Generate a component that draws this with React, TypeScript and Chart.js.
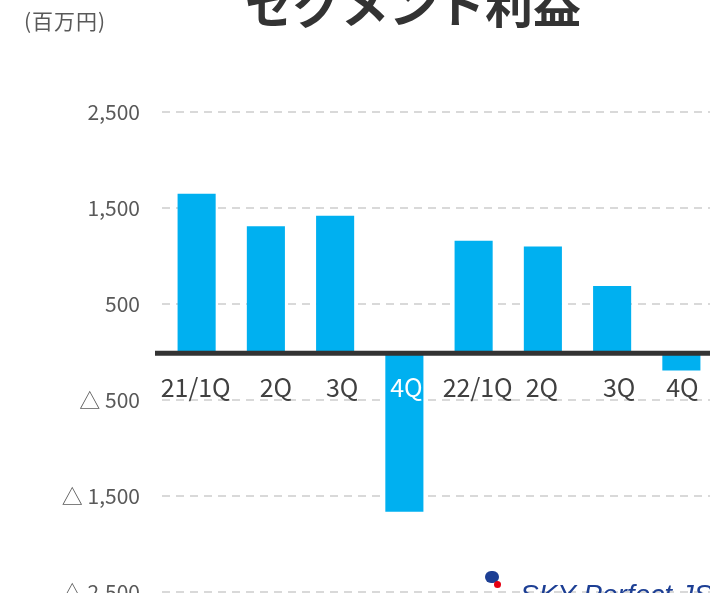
import React, { useEffect, useRef } from "react";
import { Chart, registerables } from "chart.js";

Chart.register(...registerables);

const categories = ["21/1Q", "2Q", "3Q", "4Q", "22/1Q", "2Q", "3Q", "4Q"];
const profit = [1650, 1310, 1420, -1660, 1160, 1100, 690, -190];
const yTicks = [2500, 1500, 500, -500, -1500, -2500];
const labelOffsets = [-1, 10, 7, 2, 4, -1, 7, 1];
const labelColors = ["#404040", "#404040", "#404040", "#ffffff", "#404040", "#404040", "#404040", "#404040"];

const FONT = "'Noto Sans CJK JP', 'Noto Sans', sans-serif";

function fmt(v: number): string {
  const s = Math.abs(v).toLocaleString("en-US");
  return v < 0 ? "△ " + s : s;
}

const overlay = {
  id: "overlay",
  afterDatasetsDraw(chart: any) {
    const { ctx, chartArea, scales } = chart;
    const y0 = scales.y.getPixelForValue(0);
    ctx.save();
    ctx.strokeStyle = "#333333";
    ctx.lineWidth = 5;
    ctx.beginPath();
    ctx.moveTo(chartArea.left - 7, y0 + 1);
    ctx.lineTo(chartArea.right + 10, y0 + 1);
    ctx.stroke();
    ctx.font = `25px ${FONT}`;
    ctx.textAlign = "center";
    ctx.textBaseline = "middle";
    categories.forEach((c, i) => {
      const x = scales.x.getPixelForValue(i) + labelOffsets[i];
      ctx.fillStyle = labelColors[i];
      ctx.fillText(c, x, y0 + 35);
    });
    ctx.restore();
  },
};

export default function App() {
  const ref = useRef<HTMLCanvasElement>(null);
  useEffect(() => {
    if (!ref.current) return;
    const chart = new Chart(ref.current, {
      type: "bar",
      data: {
        labels: categories,
        datasets: [
          {
            data: profit,
            backgroundColor: "#00B0F0",
            barPercentage: 1,
            categoryPercentage: 0.55,
          },
        ],
      },
      options: {
        responsive: false,
        animation: false,
        devicePixelRatio: 1,
        layout: { padding: { top: 112, bottom: 18, left: 0, right: 0 } },
        plugins: { legend: { display: false }, tooltip: { enabled: false }, title: { display: false } },
        scales: {
          x: { display: false },
          y: {
            min: -2500,
            max: 2500,
            afterFit: (s: any) => {
              s.width = 162;
            },
            afterBuildTicks: (s: any) => {
              s.ticks = yTicks.map((v) => ({ value: v }));
            },
            ticks: {
              padding: 22,
              color: "#595959",
              font: { family: FONT, size: 21 },
              callback: (v: any) => fmt(Number(v)),
            },
            border: { display: false, dash: [8, 6] },
            grid: {
              drawTicks: false,
              color: "#d9d9d9",
              lineWidth: 2,
            },
          } as any,
        },
      },
      plugins: [overlay],
    });
    return () => chart.destroy();
  }, []);

  return (
    <div
      style={{
        position: "fixed",
        left: 0,
        top: 0,
        width: 710,
        height: 593,
        overflow: "hidden",
        background: "#fff",
        fontFamily: FONT,
      }}
    >
      <canvas ref={ref} width={716} height={627} style={{ position: "absolute", left: 0, top: 0 }} />
      <div
        style={{
          position: "absolute",
          left: 24,
          top: 7,
          fontSize: 21,
          lineHeight: "26px",
          letterSpacing: 1,
          color: "#595959",
          whiteSpace: "nowrap",
        }}
      >
        (百万円)
      </div>
      <div
        style={{
          position: "absolute",
          left: 0,
          width: 826,
          textAlign: "center",
          top: -28,
          fontSize: 48,
          lineHeight: "60px",
          fontWeight: 700,
          color: "#333333",
          whiteSpace: "nowrap",
        }}
      >
        セグメント利益
      </div>
      <div
        style={{
          position: "absolute",
          left: 485,
          top: 571,
          width: 14,
          height: 12,
          borderRadius: 7,
          background: "#1d3f94",
        }}
      />
      <div
        style={{
          position: "absolute",
          left: 494,
          top: 581,
          width: 7,
          height: 7,
          borderRadius: 4,
          background: "#e60012",
        }}
      />
      <div
        style={{
          position: "absolute",
          left: 520,
          top: 578,
          fontSize: 28,
          lineHeight: "34px",
          fontStyle: "italic",
          fontFamily: "'Liberation Sans', Arial, sans-serif",
          color: "#1d3f94",
          whiteSpace: "nowrap",
        }}
      >
        SKY Perfect JSAT
      </div>
    </div>
  );
}
